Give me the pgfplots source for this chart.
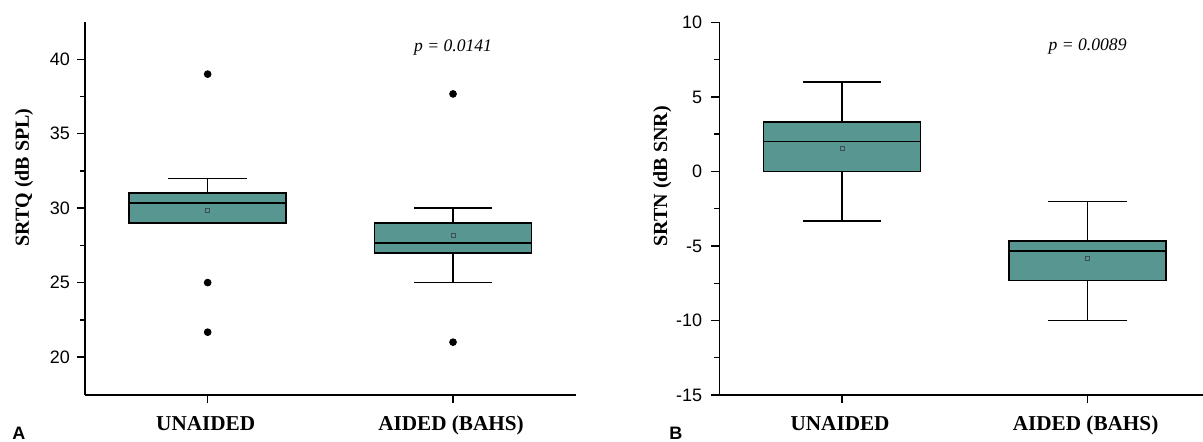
\documentclass[border=0pt]{standalone}
\usepackage{pgfplots}
\pgfplotsset{compat=1.18}
\usepackage{fontspec}
\setmainfont{Liberation Serif}
\setsansfont{Liberation Sans}
\definecolor{boxteal}{RGB}{88,150,146}
\definecolor{meangray}{RGB}{60,80,80}
\pgfplotsset{
  mybox/.style={
    scale only axis,
    xmin=0.5,
    axis x line*=bottom, axis y line*=left,
    x axis line style={-}, y axis line style={-},
    axis line style={line width=0.7pt, black},
    xtick={1,2},
    xticklabels={UNAIDED, AIDED (BAHS)},
    x tick label style={font=\bfseries\fontsize{10.6}{12}\selectfont, yshift=-3pt, xshift=-1pt},
    y tick label style={font=\sffamily\fontsize{9}{10}\selectfont},
    /pgf/number format/assume math mode=true,
    tick align=outside,
    major tick length=4pt,
    minor tick length=2.5pt,
    every tick/.style={line width=0.7pt, black},
    tick pos=left,
    ylabel style={font=\bfseries\fontsize{10}{12}\selectfont, anchor=center},
    clip=false,
  },
  boxst/.style={fill=boxteal, draw=black, line width=0.8pt, line join=miter},
  whisk/.style={black, line width=0.65pt},
}
% \drawbox{position}{lower whisker}{lower quartile}{median}{upper quartile}{upper whisker}
\newcommand{\drawbox}[6]{%
  \addplot[whisk] coordinates {(#1,#2) (#1,#3)};
  \addplot[whisk] coordinates {(#1,#5) (#1,#6)};
  \addplot[whisk] coordinates {(#1-0.16,#2) (#1+0.16,#2)};
  \addplot[whisk] coordinates {(#1-0.16,#6) (#1+0.16,#6)};
  \addplot[boxst] coordinates {(#1-0.32,#3) (#1+0.32,#3) (#1+0.32,#5) (#1-0.32,#5)} -- cycle;
  \addplot[black, line width=0.75pt] coordinates {(#1-0.32,#4) (#1+0.32,#4)};
}
\begin{document}
\begin{tikzpicture}
\useasboundingbox (-42.5pt,-23pt) rectangle (559pt,197.5pt);
% Panel A
\begin{axis}[mybox,
  width=245.35pt, height=186.5pt,
  xmax=2.5, ymin=17.45, ymax=42.5,
  ytick={20,25,30,35,40},
  minor ytick={22.5,27.5,32.5,37.5},
  ylabel={SRTQ (dB SPL)},
  ylabel style={at={(axis description cs:-0.124,0.583)}},
]
\drawbox{1}{29}{29}{30.33}{31}{32}
\drawbox{2}{25}{27}{27.67}{29}{30}
\addplot[only marks, mark=square, mark size=1pt, draw=meangray, line width=0.4pt] coordinates {(1,29.85) (2,28.15)};
\addplot[only marks, mark=*, mark size=1.7pt, black] coordinates {(1,39) (1,25) (1,21.67) (2,37.67) (2,21)};
\node[font=\itshape\fontsize{8.8}{10}\selectfont] at (axis cs:2,40.82) {p = 0.0141};
\end{axis}
% Panel B
\begin{axis}[mybox, xshift=317.15pt,
  width=241.85pt, height=186.3pt,
  xmax=2.47, ymin=-15, ymax=10,
  ytick={-15,-10,-5,0,5,10},
  minor ytick={-12.5,-7.5,-2.5,2.5,7.5},
  y tick label style={xshift=-1pt},
  ylabel={SRTN (dB SNR)},
  ylabel style={at={(axis description cs:-0.118,0.587)}},
]
\drawbox{1}{-3.33}{0}{2}{3.33}{6}
\drawbox{2}{-10}{-7.33}{-5.33}{-4.67}{-2}
\addplot[only marks, mark=square, mark size=1pt, draw=meangray, line width=0.4pt] coordinates {(1,1.56) (2,-5.84)};
\node[font=\itshape\fontsize{8.8}{10}\selectfont] at (axis cs:2,8.39) {p = 0.0089};
\end{axis}
\node[anchor=base west, font=\sffamily\bfseries\fontsize{9}{11}\selectfont, inner sep=0pt] at (-36.5pt,-22.3pt) {A};
\node[anchor=base west, font=\sffamily\bfseries\fontsize{9}{11}\selectfont, inner sep=0pt] at (292pt,-22.3pt) {B};
\end{tikzpicture}
\end{document}
